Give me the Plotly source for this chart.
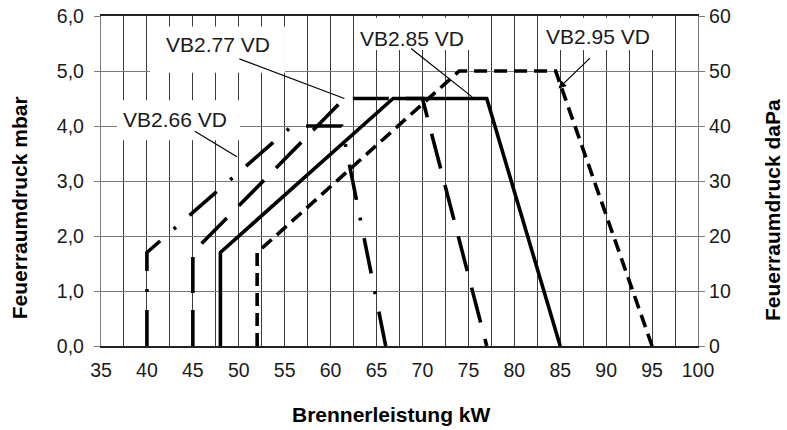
import plotly.graph_objects as go

# Brennerleistung (kW) vs Feuerraumdruck (mbar) for each burner type
x_vb266 = [40, 40, 55.8, 61.2, 66]
y_vb266 = [0, 1.7, 4.0, 4.0, 0]

x_vb277 = [45, 45, 61.5, 70, 77]
y_vb277 = [0, 1.7, 4.5, 4.5, 0]

x_vb285 = [48, 48, 66.8, 77, 85]
y_vb285 = [0, 1.7, 4.5, 4.5, 0]

x_vb295 = [52, 52, 74, 84.5, 95]
y_vb295 = [0, 1.7, 5.0, 5.0, 0]

x_ticks = list(range(35, 101, 5))
y_ticks = [0, 1, 2, 3, 4, 5, 6]
y2_ticks = [0, 10, 20, 30, 40, 50, 60]

# label text, label position, pointer tail, pointer head
labels = ['VB2.66 VD', 'VB2.77 VD', 'VB2.85 VD', 'VB2.95 VD']
label_x = [43.1, 47.7, 68.9, 89.1]
label_y = [4.12, 5.48, 5.60, 5.62]
ptr_x0 = [45.05, 49.9, 68.6, 88.4]
ptr_y0 = [3.92, 5.23, 5.43, 5.26]
ptr_x1 = [49.8, 61.5, 75.4, 84.8]
ptr_y1 = [3.44, 4.5, 4.53, 4.68]
# white boxes behind the labels (x0, x1, y0, y1)
box_x0 = [36.74, 40.33, 62.9, 82.8]
box_x1 = [50.13, 55.03, 75.4, 96.4]
box_y0 = [3.74, 4.97, 5.38, 5.38]
box_y1 = [4.47, 5.81, 5.97, 5.97]

FONT = 'Liberation Sans, Arial, sans-serif'

fig = go.Figure()

styles = [
    (x_vb266, y_vb266, '36px,18px,3px,18px'),
    (x_vb277, y_vb277, '36px,17px'),
    (x_vb285, y_vb285, 'solid'),
    (x_vb295, y_vb295, '13px,7px'),
]
for xs, ys, dash in styles:
    fig.add_trace(go.Scatter(
        x=xs, y=ys,
        mode='lines',
        line=dict(color='black', width=3.6, dash=dash),
        showlegend=False,
        hoverinfo='skip'
    ))

# empty trace so the daPa axis gets drawn
fig.add_trace(go.Scatter(x=[], y=[], yaxis='y2', showlegend=False, hoverinfo='skip'))

shapes = []
for i in range(len(labels)):
    shapes.append(dict(
        type='rect', xref='x', yref='y',
        x0=box_x0[i], x1=box_x1[i], y0=box_y0[i], y1=box_y1[i],
        fillcolor='white', line=dict(width=0), layer='between'
    ))

annotations = []
for i in range(len(labels)):
    annotations.append(dict(
        x=ptr_x1[i], y=ptr_y1[i], ax=ptr_x0[i], ay=ptr_y0[i],
        xref='x', yref='y', axref='x', ayref='y',
        text='', showarrow=True,
        arrowhead=2 if i == 3 else 0, arrowsize=1.3,
        arrowwidth=1.2, arrowcolor='black', standoff=0
    ))
    annotations.append(dict(
        x=label_x[i], y=label_y[i], xref='x', yref='y',
        text=labels[i], showarrow=False,
        font=dict(family=FONT, size=21, color='#1a1a1a')
    ))

# axis titles
title_font = dict(family=FONT, size=21, color='black')
annotations.append(dict(
    x=0.486, y=-0.209, xref='paper', yref='paper',
    xanchor='center', yanchor='middle',
    text='<b>Brennerleistung kW</b>', showarrow=False, font=title_font
))
annotations.append(dict(
    x=-0.137, y=0.418, xref='paper', yref='paper',
    xanchor='center', yanchor='middle',
    text='<b>Feuerraumdruck mbar</b>', showarrow=False, textangle=-90, font=title_font
))
annotations.append(dict(
    x=1.124, y=0.412, xref='paper', yref='paper',
    xanchor='center', yanchor='middle',
    text='<b>Feuerraumdruck daPa</b>', showarrow=False, textangle=-90, font=title_font
))

fig.update_layout(
    width=787, height=430,
    margin=dict(l=101, r=89, t=16, b=84, autoexpand=False),
    paper_bgcolor='white',
    plot_bgcolor='white',
    separators=',.',
    font=dict(family=FONT, size=19.5, color='#1a1a1a'),
    shapes=shapes,
    annotations=annotations,
    xaxis=dict(
        range=[35, 100],
        tickvals=x_ticks,
        showgrid=True, gridcolor='#3a3a3a', gridwidth=1.3,
        minor=dict(dtick=2.5, tick0=35, showgrid=True, gridcolor='#3a3a3a', gridwidth=1.3),
        showline=True, linecolor='#222222', linewidth=1.5,
        mirror=True,
        zeroline=False, ticks='', ticklabelstandoff=6, automargin=False
    ),
    yaxis=dict(
        range=[0, 6],
        tickvals=y_ticks, tickformat='.1f',
        showgrid=True, gridcolor='#7a7a7a', gridwidth=1.3,
        showline=True, linecolor='#7a7a7a', linewidth=1.3,
        ticks='outside', ticklen=6, tickcolor='#7a7a7a',
        ticklabelstandoff=6, ticklabeloverflow='allow',
        zeroline=False, automargin=False
    ),
    yaxis2=dict(
        range=[0, 60],
        tickvals=y2_ticks,
        overlaying='y', side='right', anchor='x',
        showgrid=False,
        showline=True, linecolor='#7a7a7a', linewidth=1.3,
        ticks='outside', ticklen=6, tickcolor='#7a7a7a',
        ticklabeloverflow='allow',
        zeroline=False, automargin=False
    )
)

# drop the default 8px page margin so the figure fills the window
fig.write_html("out.html", config={'displayModeBar': False},
               post_script="document.body.style.margin = '0';")
